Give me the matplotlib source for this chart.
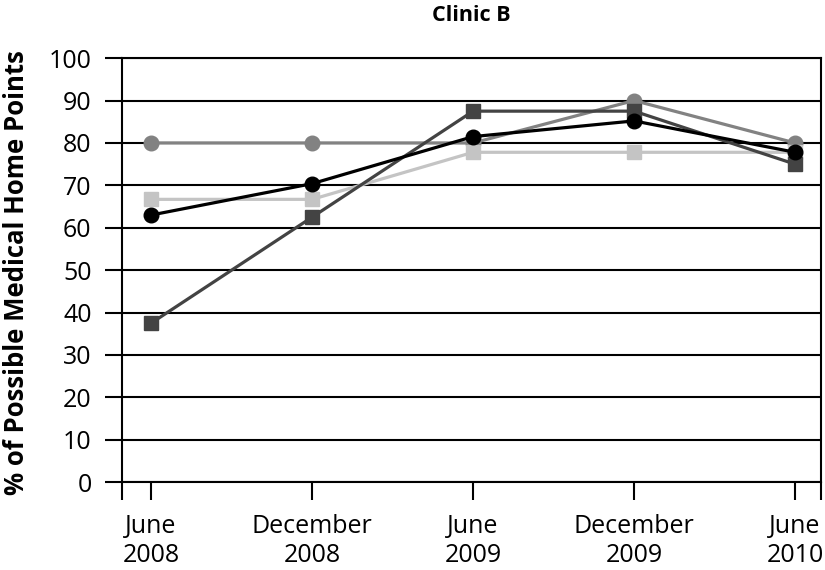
import matplotlib
matplotlib.use("Agg")
import matplotlib.pyplot as plt
import numpy as np

plt.rcParams['font.family'] = ['Open Sans', 'DejaVu Sans']

# data
periods = ['June\n2008', 'December\n2008', 'June\n2009', 'December\n2009', 'June\n2010']
gray_circles = [80, 80, 80, 90, 80]
light_squares = [66.7, 66.7, 77.8, 77.8, 77.8]
dark_squares = [37.5, 62.5, 87.5, 87.5, 75]
black_circles = [63, 70.4, 81.5, 85.2, 77.8]

x = np.arange(len(periods))

fig = plt.figure(figsize=(8.25, 5.7), dpi=100)
ax = fig.add_axes([0.148, 0.154, 0.847, 0.744])

ax.set_ylim(0, 100)
ax.set_xlim(-0.18, 4.16)
ax.set_yticks(np.arange(0, 101, 10))
ax.yaxis.grid(True, color='black', linewidth=1.5)
ax.set_axisbelow(True)

ax.plot(x, gray_circles, color='#828282', lw=2.3, marker='o', ms=10.5, zorder=3)
ax.plot(x, light_squares, color='#c4c4c4', lw=2.3, marker='s', ms=9.5, zorder=3)
ax.plot(x, dark_squares, color='#434343', lw=2.3, marker='s', ms=9.5, zorder=4)
ax.plot(x, black_circles, color='black', lw=2.3, marker='o', ms=10.5, zorder=5)

ax.set_xticks(x)
ax.set_xticklabels(periods, fontsize=18, linespacing=1.2)
ax.set_xticks([-0.18, 4.16], minor=True)
ax.tick_params(axis='x', which='both', direction='out', length=13, width=1.5, pad=10)
ax.tick_params(axis='y', direction='out', length=12, width=1.5, labelsize=18, pad=10)

for side in ['left', 'right', 'top', 'bottom']:
    ax.spines[side].set_linewidth(1.5)
    ax.spines[side].set_color('black')

fig.text(17 / 825, 1 - 273 / 570, '% of Possible Medical Home Points',
         rotation=90, ha='center', va='center', fontsize=18.5, fontweight='bold')
fig.text(0.571, 0.972, 'Clinic B', ha='center', va='center', fontsize=15.5, fontweight='bold')

fig.savefig('out.png', dpi=100)
